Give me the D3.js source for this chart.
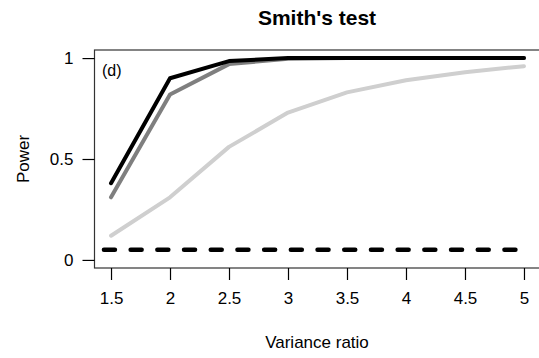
<!DOCTYPE html>
<html>
<head>
<meta charset="utf-8">
<script src="https://cdn.jsdelivr.net/npm/d3@7"></script>
<style>
  body { margin: 0; background: #fff; }
  svg text { font-family: "Liberation Sans", Arial, Helvetica, sans-serif; fill: #000; }
</style>
</head>
<body>
<div id="chart"></div>
<script>
// Variance ratios on the x axis
const ratios = [1.5, 2, 2.5, 3, 3.5, 4, 4.5, 5];

// Power curves (three settings, black / grey / light grey)
const powerBlack = [0.38, 0.90, 0.985, 1.0, 1.0, 1.0, 1.0, 1.0];
const powerGrey = [0.31, 0.82, 0.97, 0.997, 1.0, 1.0, 1.0, 1.0];
const powerLight = [0.12, 0.31, 0.56, 0.73, 0.83, 0.89, 0.93, 0.96];

// Nominal level, drawn as a dashed line
const nominalX = [1.44, 5];
const nominalY = 0.05;

const xTicks = [1.5, 2, 2.5, 3, 3.5, 4, 4.5, 5];
const yTicks = [0, 0.5, 1];

const width = 539;
const height = 358;

const svg = d3.select('#chart').append('svg')
    .attr('width', width)
    .attr('height', height);

// R-style 4% axis extension
const x = d3.scaleLinear().domain([1.36, 5.14]).range([94.5, 540.5]);
const y = d3.scaleLinear().domain([-0.04, 1.04]).range([268, 50]);

const line = d3.line()
    .x(d => x(d[0]))
    .y(d => y(d[1]));

const series = [
    { values: powerLight, color: '#cfcfcf' },
    { values: powerGrey, color: '#7f7f7f' },
    { values: powerBlack, color: '#000000' }
];

series.forEach(function (s) {
    svg.append('path')
        .datum(ratios.map((r, i) => [r, s.values[i]]))
        .attr('d', line)
        .attr('fill', 'none')
        .attr('stroke', s.color)
        .attr('stroke-width', 4)
        .attr('stroke-linejoin', 'round')
        .attr('stroke-linecap', 'round');
});

svg.append('path')
    .datum(nominalX.map(v => [v, nominalY]))
    .attr('d', line)
    .attr('fill', 'none')
    .attr('stroke', '#000')
    .attr('stroke-width', 4.5)
    .attr('stroke-dasharray', '11 15.7')
    .attr('stroke-linecap', 'round');

// Plot box
svg.append('rect')
    .attr('x', x(1.36))
    .attr('y', y(1.04))
    .attr('width', x(5.14) - x(1.36))
    .attr('height', y(-0.04) - y(1.04))
    .attr('fill', 'none')
    .attr('stroke', '#333')
    .attr('stroke-width', 1.2);

// Axes
const xAxis = svg.append('g')
    .attr('transform', `translate(0,${y(-0.04)})`)
    .call(d3.axisBottom(x).tickValues(xTicks).tickSize(12).tickPadding(12)
        .tickFormat(d3.format('')));
xAxis.select('.domain').remove();

const yAxis = svg.append('g')
    .attr('transform', `translate(${x(1.36)},0)`)
    .call(d3.axisLeft(y).tickValues(yTicks).tickSize(12).tickPadding(9)
        .tickFormat(d => d === 0 ? '0' : d === 1 ? '1' : d3.format('.1f')(d)));
yAxis.select('.domain').remove();

svg.selectAll('.tick line').attr('stroke', '#000').attr('stroke-width', 1.2);
svg.selectAll('.tick text')
    .style('font-size', '17px')
    .style('font-family', '"Liberation Sans", Arial, sans-serif');

// Titles and labels
svg.append('text')
    .attr('x', 317)
    .attr('y', 25)
    .attr('text-anchor', 'middle')
    .style('font-size', '21px')
    .style('font-weight', 'bold')
    .text("Smith's test");

svg.append('text')
    .attr('x', 317)
    .attr('y', 348)
    .attr('text-anchor', 'middle')
    .style('font-size', '17px')
    .text('Variance ratio');

svg.append('text')
    .attr('transform', 'translate(29,159) rotate(-90)')
    .attr('text-anchor', 'middle')
    .style('font-size', '17px')
    .text('Power');

svg.append('text')
    .attr('x', 102)
    .attr('y', 76)
    .style('font-size', '16px')
    .text('(d)');
</script>
</body>
</html>
